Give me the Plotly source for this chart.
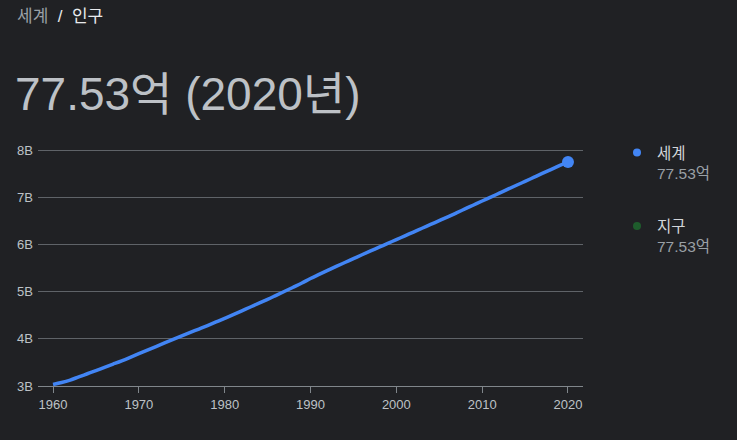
import plotly.graph_objects as go

# world population, billions
years = list(range(1960, 2021))
population = [
    3.032, 3.073, 3.126, 3.193, 3.260, 3.327, 3.396, 3.465, 3.535, 3.609,
    3.685, 3.762, 3.838, 3.914, 3.989, 4.063, 4.136, 4.209, 4.283, 4.359,
    4.435, 4.514, 4.595, 4.676, 4.757, 4.839, 4.924, 5.010, 5.097, 5.185,
    5.281, 5.367, 5.452, 5.537, 5.620, 5.703, 5.785, 5.866, 5.946, 6.026,
    6.106, 6.186, 6.267, 6.347, 6.428, 6.509, 6.590, 6.673, 6.757, 6.841,
    6.925, 7.008, 7.092, 7.176, 7.259, 7.342, 7.426, 7.510, 7.592, 7.674,
    7.753,
]
y_ticks = [3, 4, 5, 6, 7, 8]
y_labels = ["3B", "4B", "5B", "6B", "7B", "8B"]
x_ticks = [1960, 1970, 1980, 1990, 2000, 2010, 2020]
legend_names = ["세계", "지구"]
legend_values = ["77.53억", "77.53억"]
legend_colors = ["#4285f4", "#1e5c2c"]

BG = "#202124"
FONT = "Liberation Sans, Arial, Noto Sans CJK KR"

W, H = 737, 440
L, R, T, B = 38, 154, 148, 54

fig = go.Figure()
fig.add_trace(go.Scatter(x=years, y=population, mode="lines",
                         line=dict(color="#4285f4", width=3.5, shape="spline"),
                         showlegend=False, hoverinfo="skip"))
fig.add_trace(go.Scatter(x=years[-1:], y=population[-1:], mode="markers",
                         marker=dict(color="#4285f4", size=12),
                         showlegend=False, hoverinfo="skip"))

# legend-only entries
for i, (name, val, col) in enumerate(zip(legend_names, legend_values, legend_colors)):
    fig.add_trace(go.Scatter(
        x=[None], y=[None], mode="markers",
        marker=dict(color=col, size=8),
        legendgroup=f"g{i}",
        name=f"<span style='color:#d2d5d9'>{name}</span><br>"
             f"<span style='color:#9aa0a6'>{val}</span>",
    ))

fig.update_layout(
    width=W, height=H,
    paper_bgcolor=BG, plot_bgcolor=BG,
    margin=dict(l=L, r=R, t=T, b=B),
    font=dict(family=FONT, color="#bdc1c6", size=13),
    showlegend=True,
    legend=dict(x=(617 - L) / (W - L - R), y=(H - B - 136) / (H - T - B),
                xanchor="left", yanchor="top",
                valign="top", tracegroupgap=30,
                font=dict(size=15.5), bgcolor="rgba(0,0,0,0)"),
    xaxis=dict(range=[1958.25, 2021.75], tickvals=x_ticks,
               showgrid=False, zeroline=False,
               ticks="outside", ticklen=6, tickcolor="#80868b",
               tickfont=dict(size=13, color="#bdc1c6"),
               showline=True, linecolor="#80868b", linewidth=1,
               fixedrange=True),
    yaxis=dict(range=[3, 8.05], tickvals=y_ticks, ticktext=y_labels,
               showgrid=True, gridcolor="#5f6368", gridwidth=1,
               zeroline=False, showline=False, ticks="",
               ticklabelstandoff=4,
               tickfont=dict(size=13, color="#bdc1c6"), fixedrange=True),
)


# header texts positioned in pixels via paper coordinates
def px_x(px):
    return (px - L) / (W - L - R)


def px_y(py):
    return (H - B - py) / (H - T - B)


fig.layout.annotations = [
    dict(x=px_x(15), y=px_y(16), xref="paper", yref="paper",
         xanchor="left", yanchor="middle", showarrow=False,
         text="<span style='color:#9aa0a6'>세계</span>"
              "<span style='color:#e8eaed'>&nbsp;&nbsp;/&nbsp;&nbsp;인구</span>",
         font=dict(size=17, family=FONT)),
    dict(x=px_x(13), y=px_y(94), xref="paper", yref="paper",
         xanchor="left", yanchor="middle", showarrow=False,
         text="77.53억 (2020년)",
         font=dict(size=46, family=FONT, color="#bdc1c6")),
]

fig.write_html("out.html", config={"displayModeBar": False},
               post_script="document.body.style.margin='0';")
